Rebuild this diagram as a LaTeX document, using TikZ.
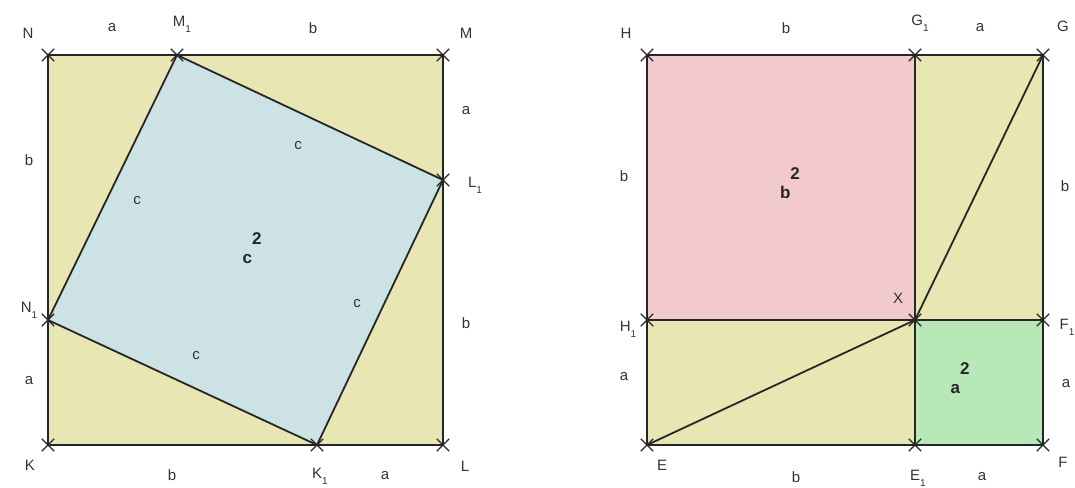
\documentclass[tikz,border=0pt]{standalone}
\usepackage{fontspec}
\setmainfont{Liberation Sans}
\usetikzlibrary{shapes.misc}
\definecolor{yel}{HTML}{E8E6B2}
\definecolor{blu}{HTML}{CCE2E4}
\definecolor{pnk}{HTML}{F2CACB}
\definecolor{grn}{HTML}{B8E8B8}
\definecolor{txt}{HTML}{333333}
\newcommand\sbs[1]{\raisebox{-0.4em}{\fontsize{10}{10}\selectfont #1}}
\newcommand\sq[1]{\textbf{#1}\raisebox{1.1em}{\textbf{2}}}
\tikzset{
  edge/.style={draw=black!85, line width=1.8pt, line join=round},
  mk/.style={cross out, draw=black!85, line width=1.3pt, minimum size=11pt, inner sep=0pt},
  lbl/.style={text=txt, font=\fontsize{15}{17}\selectfont, inner sep=0pt},
  big/.style={text=black!85, font=\fontsize{17}{19}\selectfont, inner sep=0pt}
}
\begin{document}
\begin{tikzpicture}[x=1pt,y=-1pt]
\useasboundingbox (0,0) rectangle (1075,487);
% left square
\coordinate (N) at (48,55);
\coordinate (M) at (443,55);
\coordinate (L) at (443,445);
\coordinate (K) at (48,445);
\coordinate (M1) at (177,55);
\coordinate (L1) at (443,180);
\coordinate (K1) at (317,445);
\coordinate (N1) at (48,320);
\fill[yel] (N) -- (M) -- (L) -- (K) -- cycle;
\fill[blu] (M1) -- (L1) -- (K1) -- (N1) -- cycle;
\draw[edge] (N) -- (M) -- (L) -- (K) -- cycle;
\draw[edge] (M1) -- (L1) -- (K1) -- (N1) -- cycle;
\foreach \p in {N,M,L,K,M1,L1,K1,N1} \node[mk] at (\p) {};
% right square
\coordinate (H) at (647,55);
\coordinate (G) at (1043,55);
\coordinate (F) at (1043,445);
\coordinate (E) at (647,445);
\coordinate (G1) at (915,55);
\coordinate (H1) at (647,320);
\coordinate (X) at (915,320);
\coordinate (F1) at (1043,320);
\coordinate (E1) at (915,445);
\fill[yel] (H) -- (G) -- (F) -- (E) -- cycle;
\fill[pnk] (H) -- (G1) -- (X) -- (H1) -- cycle;
\fill[grn] (X) -- (F1) -- (F) -- (E1) -- cycle;
\draw[edge] (H) -- (G) -- (F) -- (E) -- cycle;
\draw[edge] (G1) -- (E1);
\draw[edge] (H1) -- (F1);
\draw[edge] (E) -- (X) -- (G);
\foreach \p in {H,G,F,E,G1,H1,X,F1,E1} \node[mk] at (\p) {};
% left labels
\node[lbl] (tN) at (28,33) {N};
\node[lbl] (ta1) at (112,28) {a};
\node[lbl] (tM1) at (182,24) {M\sbs{1}};
\node[lbl] (tb1) at (313,28) {b};
\node[lbl] (tM) at (466,33) {M};
\node[lbl] (ta2) at (466,111) {a};
\node[lbl] (tL1) at (475,185) {L\sbs{1}};
\node[lbl] (tc1) at (298,146) {c};
\node[lbl] (tc2) at (137,201) {c};
\node[big] (tc) at (252,248) {\sq{c}};
\node[lbl] (tb2) at (29,160) {b};
\node[lbl] (tN1) at (29,310) {N\sbs{1}};
\node[lbl] (tc3) at (357,304) {c};
\node[lbl] (tc4) at (196,356) {c};
\node[lbl] (ta3) at (29,381) {a};
\node[lbl] (tb3) at (466,323) {b};
\node[lbl] (tK) at (30,465) {K};
\node[lbl] (tb4) at (172,475) {b};
\node[lbl] (tK1) at (320,476) {K\sbs{1}};
\node[lbl] (ta4) at (385,476) {a};
\node[lbl] (tL) at (465,466) {L};
% right labels
\node[lbl] (tH) at (626,33) {H};
\node[lbl] (tb5) at (786,28) {b};
\node[lbl] (tG1) at (920,23) {G\sbs{1}};
\node[lbl] (ta5) at (980,28) {a};
\node[lbl] (tG) at (1063,26) {G};
\node[lbl] (tb6) at (624,176) {b};
\node[big] (tbb) at (790,183) {\sq{b}};
\node[lbl] (tX) at (898,298) {X};
\node[lbl] (tb7) at (1065,186) {b};
\node[lbl] (tH1) at (628,329) {H\sbs{1}};
\node[lbl] (tF1) at (1067,327) {F\sbs{1}};
\node[lbl] (ta6) at (624,377) {a};
\node[big] (taa) at (960,378) {\sq{a}};
\node[lbl] (ta7) at (1066,384) {a};
\node[lbl] (tE) at (662,465) {E};
\node[lbl] (tb8) at (796,477) {b};
\node[lbl] (tE1) at (918,478) {E\sbs{1}};
\node[lbl] (ta8) at (982,477) {a};
\node[lbl] (tF) at (1063,462) {F};
\end{tikzpicture}
\end{document}
